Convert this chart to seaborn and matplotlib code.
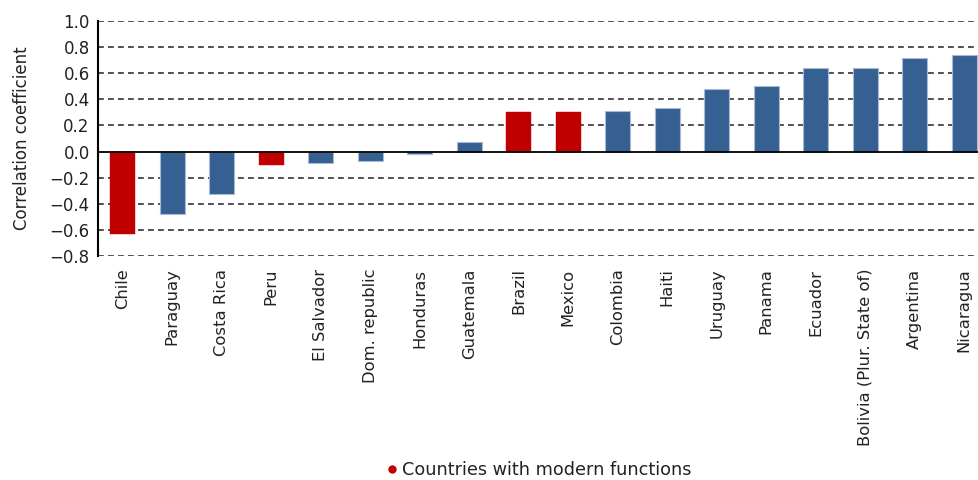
import matplotlib
matplotlib.use("Agg")
import matplotlib.pyplot as plt
import seaborn as sns
import pandas as pd
from matplotlib.lines import Line2D

countries = ["Chile", "Paraguay", "Costa Rica", "Peru", "El Salvador", "Dom. republic",
             "Honduras", "Guatemala", "Brazil", "Mexico", "Colombia", "Haiti", "Uruguay",
             "Panama", "Ecuador", "Bolivia (Plur. State of)", "Argentina", "Nicaragua"]
values = [-0.63, -0.48, -0.325, -0.10, -0.085, -0.07, -0.015, 0.07, 0.30, 0.30,
          0.31, 0.33, 0.48, 0.50, 0.64, 0.64, 0.715, 0.74]
modern = [True, False, False, True, False, False, False, False, True, True,
          False, False, False, False, False, False, False, False]
y_ticks = [-0.8, -0.6, -0.4, -0.2, 0.0, 0.2, 0.4, 0.6, 0.8, 1.0]
legend_label = "Countries with modern functions"
y_label = "Correlation coefficient"

RED = "#C00000"
BLUE = "#366092"

df = pd.DataFrame({"country": countries, "value": values,
                   "group": ["modern" if m else "other" for m in modern]})

sns.set_theme(style="white")
plt.rcParams["font.family"] = ["DejaVu Sans"]

fig = plt.figure(figsize=(9.79, 4.8), dpi=100)
ax = fig.add_axes([98 / 979, 224 / 480, 881 / 979, 235 / 480])

sns.barplot(data=df, x="country", y="value", hue="group",
            palette={"modern": RED, "other": BLUE}, dodge=False, saturation=1,
            width=0.5, legend=False, ax=ax, zorder=3)

for patch in ax.patches:
    fc = patch.get_facecolor()
    if fc[0] > 0.6 and fc[2] < 0.1:
        patch.set_edgecolor(RED)
        patch.set_linewidth(0.3)
    else:
        patch.set_edgecolor("#A4BAD6")
        patch.set_linewidth(0.8)

ax.set_xlim(-0.5, 17.3)
ax.set_ylim(-0.8, 1.0)
ax.set_yticks(y_ticks)
ax.set_yticklabels([f"{t:.1f}".replace("-", "\u2212") if t != 0 else "0.0" for t in y_ticks])
for t in y_ticks:
    if t != 0:
        ax.axhline(t, color="#333333", linestyle=(0, (3.5, 2.5)), linewidth=1.2, zorder=1)
ax.axhline(0, color="black", linewidth=1.3, zorder=4)

for s in ["top", "right", "bottom"]:
    ax.spines[s].set_visible(False)
ax.spines["left"].set_color("black")
ax.spines["left"].set_linewidth(1.5)
ax.tick_params(axis="y", length=0, labelsize=12, pad=6, colors="#222222")
ax.tick_params(axis="x", length=0, labelsize=11.8, pad=9, colors="#222222")
ax.set_xticks(range(len(countries)))
ax.set_xticklabels(countries, rotation=90, va="top", ha="center")
ax.set_xlabel("")
ax.set_ylabel(y_label, fontsize=12, color="#222222", labelpad=13)

handle = Line2D([], [], marker="o", linestyle="none", color=RED, markersize=5)
fig.legend([handle], [legend_label], loc="center", bbox_to_anchor=(0.549, 0.021),
           frameon=False, fontsize=12.7, handletextpad=0.1, handlelength=1.0,
           labelcolor="#222222")

fig.savefig("out.png", dpi=100)
